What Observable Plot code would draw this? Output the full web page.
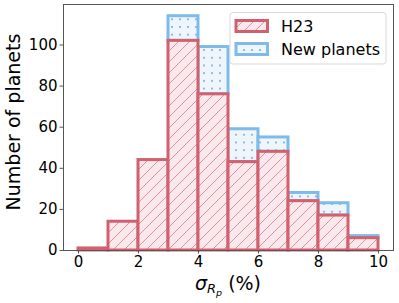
<!DOCTYPE html>
<html><head><meta charset="utf-8">
<script src="https://cdn.jsdelivr.net/npm/d3@7"></script>
<script src="https://cdn.jsdelivr.net/npm/@observablehq/plot@0.6"></script>
<style>body{margin:0;background:#fff}</style>
</head><body><div id="chart"></div>
<script>
const binStarts = [0, 1, 2, 3, 4, 5, 6, 7, 8, 9];
const h23Counts = [1, 14, 44, 102, 76, 43, 48, 24, 17, 6];
const totalCounts = [1, 14, 44, 114, 99, 59, 55, 28, 23, 7];
const xTicks = [0, 2, 4, 6, 8, 10];
const yTicks = [0, 20, 40, 60, 80, 100];
const seriesNames = ["H23", "New planets"];

const data = binStarts.map((x0, i) => ({x0, x1: x0 + 1, base: 0, h23: h23Counts[i], total: totalCounts[i]}));
const newBars = data.filter(d => d.total > d.h23);

const RED = "#d1616f", BLUE = "#7fbbe9";

const plot = Plot.plot({
  width: 399, height: 303,
  marginLeft: 63, marginRight: 6, marginTop: 4, marginBottom: 53,
  style: {fontFamily: "DejaVu Sans", fontSize: "15px", color: "#000", background: "#fff"},
  x: {domain: [-0.5, 10.5], label: null},
  y: {domain: [0, 119.7], label: null},
  marks: [
    Plot.rect(newBars, {x1: "x0", x2: "x1", y1: "h23", y2: "total", fill: "url(#dots)", stroke: BLUE, strokeWidth: 3, inset: 0}),
    Plot.rect(data, {x1: "x0", x2: "x1", y1: "base", y2: "h23", fill: "url(#hatch)", stroke: RED, strokeWidth: 3, inset: 0}),
    Plot.frame({stroke: "#555", strokeWidth: 1}),
    Plot.axisX({ticks: xTicks, tickSize: 3.5, tickPadding: 2, fontSize: 15, stroke: "#555", label: null}),
    Plot.axisY({ticks: yTicks, tickSize: 3.5, tickPadding: 2.5, fontSize: 15, stroke: "#555", label: null})
  ]
});

const svg = d3.select(plot);
const defs = svg.insert("defs", ":first-child");
const hp = defs.append("pattern").attr("id", "hatch").attr("patternUnits", "userSpaceOnUse").attr("width", 11).attr("height", 11);
hp.append("rect").attr("width", 11).attr("height", 11).attr("fill", "#f9e8ec");
hp.append("path").attr("d", "M0,11 L11,0 M-2,2 L2,-2 M9,13 L13,9").attr("stroke", "#e3909e").attr("stroke-width", 1).attr("fill", "none");
const dp = defs.append("pattern").attr("id", "dots").attr("patternUnits", "userSpaceOnUse").attr("width", 8).attr("height", 7.7);
dp.append("rect").attr("width", 8).attr("height", 7.7).attr("fill", "#eef6fc");
dp.append("circle").attr("cx", 4).attr("cy", 3.85).attr("r", 0.9).attr("fill", "#5e9fd6");

// axis labels
svg.append("text").attr("transform", "translate(20,122) rotate(-90)").attr("text-anchor", "middle")
  .attr("font-family", "DejaVu Sans").attr("font-size", 19).attr("fill", "#000").text("Number of planets");
const xl = svg.append("text").attr("x", 228).attr("y", 290).attr("text-anchor", "middle")
  .attr("font-family", "DejaVu Sans").attr("font-size", 19).attr("fill", "#000");
xl.append("tspan").attr("font-style", "italic").text("σ");
xl.append("tspan").attr("font-size", 13).attr("font-style", "italic").attr("dy", 3).text("R");
xl.append("tspan").attr("font-size", 9.5).attr("font-style", "italic").attr("dy", 3).text("p");
xl.append("tspan").attr("dy", -6).text(" (%)");

// legend
const lg = svg.append("g").attr("text-anchor", "start");
lg.append("rect").attr("x", 230).attr("y", 12.5).attr("width", 156).attr("height", 51.5).attr("rx", 3)
  .attr("fill", "#fff").attr("fill-opacity", 0.8).attr("stroke", "#d9d9d9");
const fills = ["url(#hatch)", "url(#dots)"], strokes = [RED, BLUE], ys = [20.5, 43.5];
seriesNames.forEach((name, i) => {
  lg.append("rect").attr("x", 236).attr("y", ys[i]).attr("width", 31.5).attr("height", 11)
    .attr("fill", fills[i]).attr("stroke", strokes[i]).attr("stroke-width", 3);
  lg.append("text").attr("x", 281).attr("y", ys[i] + 11.2).attr("text-anchor", "start").attr("font-family", "DejaVu Sans")
    .attr("font-size", 16).attr("fill", "#000").text(name);
});

document.getElementById("chart").appendChild(plot);
</script>
</body></html>
